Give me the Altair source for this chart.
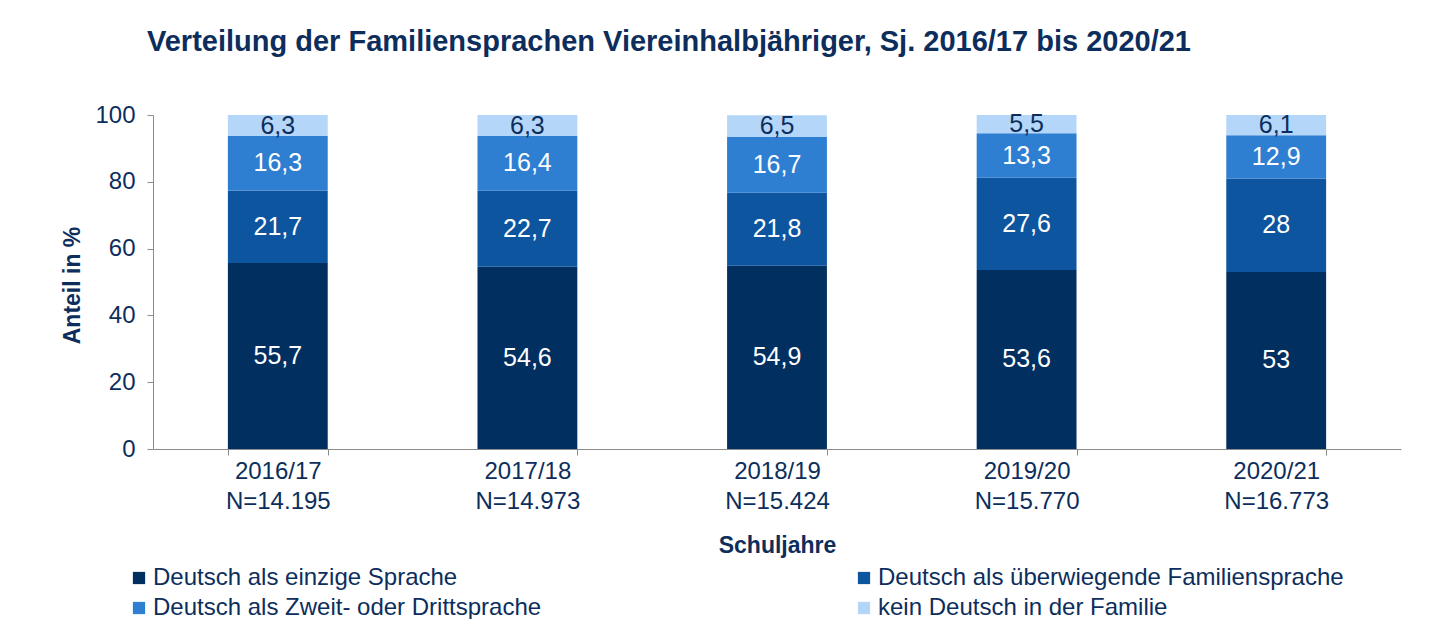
import altair as alt
import pandas as pd

years = ["2016/17", "2017/18", "2018/19", "2019/20", "2020/21"]
ns = ["N=14.195", "N=14.973", "N=15.424", "N=15.770", "N=16.773"]
series = [
    "Deutsch als einzige Sprache",
    "Deutsch als überwiegende Familiensprache",
    "Deutsch als Zweit- oder Drittsprache",
    "kein Deutsch in der Familie",
]
einzige = [55.7, 54.6, 54.9, 53.6, 53]
ueberwiegend = [21.7, 22.7, 21.8, 27.6, 28]
zweit = [16.3, 16.4, 16.7, 13.3, 12.9]
kein = [6.3, 6.3, 6.5, 5.5, 6.1]
colors = ["#002F60", "#0E55A0", "#2E7ED2", "#B4D6F8"]

NAVY = "#0D2E5C"
FONT = "Liberation Sans"

rows = []
for s_i, (name, vals) in enumerate(zip(series, [einzige, ueberwiegend, zweit, kein])):
    for y, n, v in zip(years, ns, vals):
        rows.append({"cat": f"{y}|{n}", "series": name, "idx": s_i, "value": v})
df = pd.DataFrame(rows)
cats = [f"{y}|{n}" for y, n in zip(years, ns)]

# legend is laid out column-first: order domain so rows read like the reference
legend_order = [0, 2, 1, 3]
dom = [series[i] for i in legend_order]
rng = [colors[i] for i in legend_order]

base = alt.Chart(df).transform_stack(
    stack="value",
    groupby=["cat"],
    as_=["v0", "v1"],
    sort=[alt.SortField("idx", order="ascending")],
).transform_calculate(
    mid="(datum.v0 + datum.v1) / 2",
    lab="replace(toString(datum.value), '.', ',')",
)

xenc = alt.X(
    "cat:N",
    sort=cats,
    scale=alt.Scale(paddingInner=0.6, paddingOuter=0.3),
    axis=alt.Axis(
        title="Schuljahre",
        labelExpr="split(datum.label, '|')",
        labelAngle=0,
        labelFontSize=24,
        labelLineHeight=30,
        labelColor=NAVY,
        labelFont=FONT,
        labelPadding=4,
        grid=False,
        tickBand="extent",
        tickSize=6,
        tickColor="#8C8C8C",
        domainColor="#8C8C8C",
        titleFontSize=23,
        titleFont=FONT,
        titleColor=NAVY,
        titleFontWeight="bold",
        titleY=96,
        titleBaseline="middle",
    ),
)

yscale = alt.Scale(domain=[0, 100], nice=False)

bars = base.mark_bar().encode(
    x=xenc,
    y=alt.Y(
        "v0:Q",
        scale=yscale,
        axis=alt.Axis(
            title="Anteil in %",
            values=[0, 20, 40, 60, 80, 100],
            grid=False,
            labelFontSize=24,
            labelColor=NAVY,
            labelFont=FONT,
            labelPadding=12,
            tickSize=6,
            tickColor="#8C8C8C",
            domainColor="#8C8C8C",
            titleFontSize=23,
            titleFont=FONT,
            titleColor=NAVY,
            titleFontWeight="bold",
            titleX=-81,
            titleY=170,
            titleAlign="center",
            titleBaseline="middle",
        ),
    ),
    y2="v1:Q",
    color=alt.Color(
        "series:N",
        scale=alt.Scale(domain=dom, range=rng),
        legend=alt.Legend(
            title=None,
            orient="none",
            legendX=-26,
            legendY=451,
            columns=2,
            columnPadding=310,
            rowPadding=6,
            symbolType="square",
            symbolSize=150,
            symbolStrokeWidth=0,
            labelFontSize=24,
            labelFont=FONT,
            labelColor=NAVY,
            labelOffset=2,
            labelLimit=600,
            padding=0,
        ),
    ),
    order=alt.Order("idx:Q", sort="ascending"),
)

labels = base.mark_text(fontSize=25, font=FONT, baseline="middle").encode(
    x=alt.X("cat:N", sort=cats),
    y=alt.Y("mid:Q", scale=yscale),
    text="lab:N",
    color=alt.condition("datum.idx == 3", alt.value(NAVY), alt.value("white")),
)

chart = (
    alt.layer(bars, labels)
    .properties(
        width=1248,
        height=334,
        autosize=alt.AutoSizeParams(type="none"),
        padding={"left": 145, "top": 107, "right": 40, "bottom": 170},
        title=alt.Title(
            "Verteilung der Familiensprachen Viereinhalbjähriger, Sj. 2016/17 bis 2020/21",
            anchor="start",
            frame="group",
            font=FONT,
            fontSize=29,
            fontWeight="bold",
            color=NAVY,
            offset=46,
            dx=-6,
        ),
    )
    .configure(background="white")
    .configure_view(strokeWidth=0)
)

chart.save("out.html", embed_options={"renderer": "svg", "actions": False})
